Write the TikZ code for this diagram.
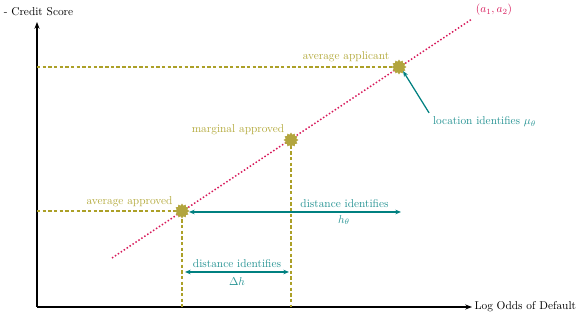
\documentclass[tikz,border=0pt]{standalone}
\usetikzlibrary{shapes.geometric,arrows.meta}
\definecolor{myolive}{RGB}{172,160,40}
\definecolor{starolive}{RGB}{178,165,62}
\definecolor{myteal}{RGB}{0,128,128}
\definecolor{myred}{RGB}{215,25,90}
\begin{document}
\begin{tikzpicture}[x=0.881pt,y=-0.881pt,
  axis/.style={line width=1.1pt,-{Stealth[length=6pt,width=4.5pt]}},
  guide/.style={myolive,line width=1.3pt,dash pattern=on 3pt off 2pt},
  curve/.style={myred,line width=1.3pt,dash pattern=on 1.3pt off 1.8pt},
  pt/.style={star,star points=12,star point ratio=1.35,minimum size=13pt,inner sep=0pt,fill=starolive,draw=none},
  olivelabel/.style={text=myolive!90!white},
  teallabel/.style={text=myteal!85!white},
  dist/.style={myteal,line width=1.1pt,{Stealth[length=5pt,width=4pt]}-{Stealth[length=5pt,width=4pt]}},
  pointer/.style={myteal,line width=1.1pt,-{Stealth[length=5pt,width=4pt]}}]
\useasboundingbox (0,0) rectangle (581,317);
% axes
\coordinate (O) at (37,307);
\coordinate (ytop) at (37,22);
\coordinate (xend) at (472,307);
\draw[axis] (O) -- (ytop);
\draw[axis] (O) -- (xend);
\node (ylab) at (38.5,12) {- Credit Score};
\node[anchor=west,inner sep=2pt] (xlab) at (xend) {Log Odds of Default};
% line
\coordinate (L1) at (112,258);
\coordinate (L2) at (472,19);
\draw[curve] (L1) -- (L2);
\node[text=myred] (alab) at (494,10) {$(a_1,a_2)$};
% guide coordinates
\coordinate (yAA) at (37,67);
\coordinate (yAP) at (37,211);
\coordinate (xAP) at (182,307);
\coordinate (xMA) at (291,307);
\coordinate (AAc) at (399,67);
\coordinate (MAc) at (291,140);
\coordinate (APc) at (182,211);
\draw[guide] (yAA) -- (AAc);
\draw[guide] (yAP) -- (APc) -- (xAP);
\draw[guide] (MAc) -- (xMA);
% points
\node[pt] (AA) at (AAc) {};
\node[pt] (MA) at (MAc) {};
\node[pt] (AP) at (APc) {};
\node[olivelabel] (AAlab) at (346,57) {average applicant};
\node[olivelabel] (MAlab) at (238,130) {marginal approved};
\node[olivelabel] (APlab) at (129.5,202) {average approved};
% distances
\coordinate (d1a) at (189,212);
\coordinate (d1b) at (401,212);
\draw[dist] (d1a) -- (d1b);
\node[teallabel] (d1t) at (344.5,204) {distance identifies};
\node[teallabel] (d1m) at (344,220) {$h_\theta$};
\coordinate (d2a) at (185,272);
\coordinate (d2b) at (289,272);
\draw[dist] (d2a) -- (d2b);
\node[teallabel] (d2t) at (237,264) {distance identifies};
\node[teallabel] (d2m) at (237,282) {$\Delta h$};
% location
\node[teallabel] (loc) at (484.5,122) {location identifies $\mu_\theta$};
\draw[pointer] (loc.north west) -- (AA.south east);
\end{tikzpicture}
\end{document}
